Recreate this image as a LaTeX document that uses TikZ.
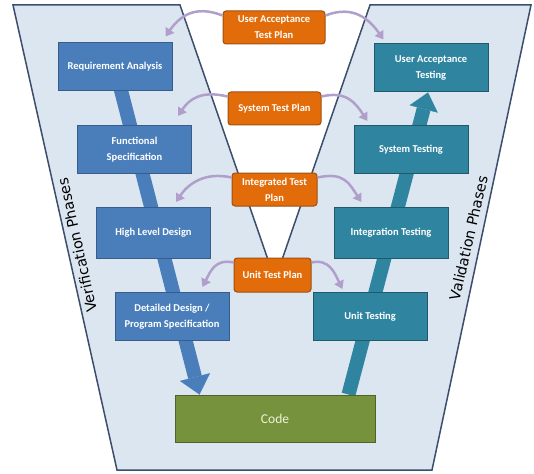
\documentclass[tikz,border=0pt]{standalone}
\usepackage{fontspec}
\setmainfont{Carlito}
\newfontfamily\phasefont{DejaVu Sans}
\usetikzlibrary{arrows.meta,calc}

\definecolor{vback}{HTML}{DCE6F1}
\definecolor{vline}{HTML}{3B4E6B}
\definecolor{verblue}{HTML}{4A7EBB}
\definecolor{verline}{HTML}{385D8A}
\definecolor{valteal}{HTML}{2F84A0}
\definecolor{valline}{HTML}{215968}
\definecolor{planorange}{HTML}{E36C0A}
\definecolor{planline}{HTML}{A04F10}
\definecolor{codegreen}{HTML}{76923C}
\definecolor{codeline}{HTML}{4F6228}
\definecolor{codetext}{HTML}{EEF3DC}
\definecolor{planarc}{HTML}{B09FCB}

\pgfdeclarelayer{back}
\pgfdeclarelayer{mid}
\pgfsetlayers{back,mid,main}

\tikzset{
  phasebox/.style={draw, line width=1pt, text=white, align=center, inner sep=2pt,
    font=\bfseries\fontsize{10.5}{16}\selectfont, minimum width=114pt, minimum height=48pt},
  verbox/.style={phasebox, fill=verblue, draw=verline},
  valbox/.style={phasebox, fill=valteal, draw=valline},
  planbox/.style={phasebox, fill=planorange, draw=planline, rounded corners=3pt, minimum height=33pt},
  codebox/.style={phasebox, fill=codegreen, draw=codeline, text=codetext,
    font=\fontsize{13.5}{16}\selectfont, minimum width=200pt, minimum height=47pt},
  planarrow/.style={draw=planarc, line width=2.5pt, -{Triangle[length=8pt,width=10pt]}},
  phaselabel/.style={font=\phasefont\fontsize{14.5}{16}\selectfont}
}

\begin{document}
\begin{tikzpicture}[x=1pt,y=-1pt]
    \useasboundingbox (0,0) rectangle (534,473);

    % V shaped background
    \begin{pgfonlayer}{back}
        \draw[line width=1.5pt, draw=vline, fill=vback] (13,5) -- (180,5) -- (275,280) -- (370,5) -- (531,5) -- (432,470) -- (117,470) -- cycle;
    \end{pgfonlayer}

    % Verification side
    \node[verbox] (req) at (115,67) {Requirement Analysis};
    \node[verbox] (func) at (134.5,149.5) {Functional\\Specification};
    \node[verbox, minimum height=51pt] (hld) at (153.5,233) {High Level Design};
    \node[verbox] (dd) at (172,316.5) {Detailed Design /\\Program Specification};

    % Validation side
    \node[valbox] (uat) at (431,68) {User Acceptance\\Testing};
    \node[valbox] (st) at (411,149.5) {System Testing};
    \node[valbox, minimum height=51pt] (it) at (391,233) {Integration Testing};
    \node[valbox] (ut) at (370,316.5) {Unit Testing};

    % Bottom of the V
    \node[codebox] (code) at (275,418.5) {Code};

    % Test plans in the middle
    \node[planbox, minimum width=102pt] (uatp) at (274,27.5) {User Acceptance\\Test Plan};
    \node[planbox, minimum width=93pt] (stp) at (274.5,108.5) {System Test Plan};
    \node[planbox, minimum width=85pt] (itp) at (274.5,189.5) {Integrated Test\\Plan};
    \node[planbox, minimum width=77pt, minimum height=34pt] (utp) at (272.5,275) {Unit Test Plan};

    % Big arrows behind the boxes
    \begin{pgfonlayer}{mid}
        \draw[verblue, line width=14pt, -{Triangle[length=18pt,width=31pt,line width=0.1pt]}] (req.center) -- ($(code.north west)+(25,0)$);
        \draw[valteal, line width=14pt, -{Triangle[length=17pt,width=29pt,line width=0.1pt]}] ($(code.north east)+(-27,0)$) -- ($(uat.south)+(-3,0)$);
    \end{pgfonlayer}

    % Plan arrows, left
    \draw[planarrow] ($(uatp.north west)+(0,5)$) .. controls +(-28,-11) and +(14,-20) .. ($(req.north east)+(-7,-6)$);
    \draw[planarrow] ($(stp.north west)+(0,5)$) .. controls +(-25,-6) and +(12,-18) .. ($(func.north east)+(-14,-9)$);
    \draw[planarrow] ($(itp.north west)+(0,5)$) .. controls +(-27,-6) and +(12,-18) .. ($(hld.north east)+(-35,-5)$);
    \draw[planarrow] ($(utp.north west)+(0,5)$) .. controls +(-18,-4) and +(8,-16) .. ($(dd.north east)+(-27,-5)$);

    % Plan arrows, right
    \draw[planarrow] ($(uatp.north east)+(0,5)$) .. controls +(28,-11) and +(-14,-20) .. ($(uat.north west)+(10,-4)$);
    \draw[planarrow] ($(stp.north east)+(0,5)$) .. controls +(25,-6) and +(-12,-18) .. ($(st.north west)+(14,-4)$);
    \draw[planarrow] ($(itp.north east)+(0,5)$) .. controls +(27,-6) and +(-12,-18) .. ($(it.north west)+(28,-5)$);
    \draw[planarrow] ($(utp.north east)+(0,5)$) .. controls +(18,-4) and +(-8,-16) .. ($(ut.north west)+(30,-3)$);

    % Phase labels along the edges
    \node[phaselabel, rotate=102.5] (verlabel) at (77,245) {Verification Phases};
    \node[phaselabel, rotate=77] (vallabel) at (468.5,238) {Validation Phases};

\end{tikzpicture}
\end{document}
